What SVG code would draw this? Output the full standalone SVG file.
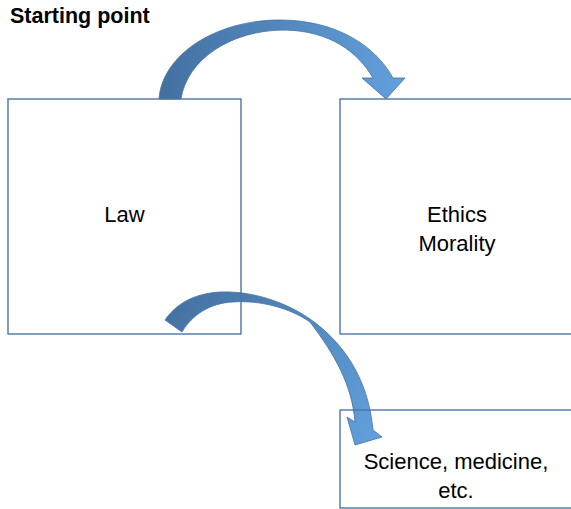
<svg xmlns="http://www.w3.org/2000/svg" width="571" height="509" viewBox="0 0 571 509">
<style>
.box{fill:none;stroke:#4a76a8;stroke-width:1.4}
.lbl{font-family:"Liberation Sans",Arial,sans-serif;font-size:22px;fill:#000;text-anchor:middle}
.title{font-family:"Liberation Sans",Arial,sans-serif;font-size:21.5px;font-weight:bold;fill:#000}
.arrow{stroke:#4672a3;stroke-width:0.8;stroke-linejoin:round}
</style>
<defs>
<linearGradient id="g1" x1="160" y1="0" x2="405" y2="0" gradientUnits="userSpaceOnUse">
<stop offset="0" stop-color="#4470a0"/>
<stop offset="1" stop-color="#62a0dc"/>
</linearGradient>
<linearGradient id="g2" x1="165" y1="300" x2="380" y2="440" gradientUnits="userSpaceOnUse">
<stop offset="0" stop-color="#4470a0"/>
<stop offset="1" stop-color="#62a0dc"/>
</linearGradient>
</defs>
<rect width="571" height="509" fill="#fff"/>
<text class="title" x="10" y="23">Starting point</text>
<g id="connectors">
<path class="arrow" fill="url(#g1)" d="M159,99 C162,55 215,20 280,20 C335,20 375,45 393,78 L405,78 L386,99 L362,78 L373,78 C358,52 330,31 285,30 C230,30 187,60 181,99 Z"/>
<path class="arrow" fill="url(#g2)" d="M165,320 C180,298 205,291 230,292 C260,293 290,305 310,319 C340,340 368,375 373,430 L382,437 L355,445 L347,417 L355,422 C352,385 335,355 310,322 C290,308 260,300 233,302 C210,303 192,315 182,332 Z"/>
</g>
<g id="law">
<rect class="box" x="8" y="99" width="233" height="235"/>
<text class="lbl" x="124.5" y="222">Law</text>
</g>
<g id="ethics">
<rect class="box" x="340" y="99" width="240" height="235"/>
<text class="lbl" x="457" y="222">Ethics</text>
<text class="lbl" x="457" y="251">Morality</text>
</g>
<g id="science">
<rect class="box" x="340" y="410" width="240" height="98"/>
<text class="lbl" x="456" y="469">Science, medicine,</text>
<text class="lbl" x="456" y="498">etc.</text>
</g>
</svg>
